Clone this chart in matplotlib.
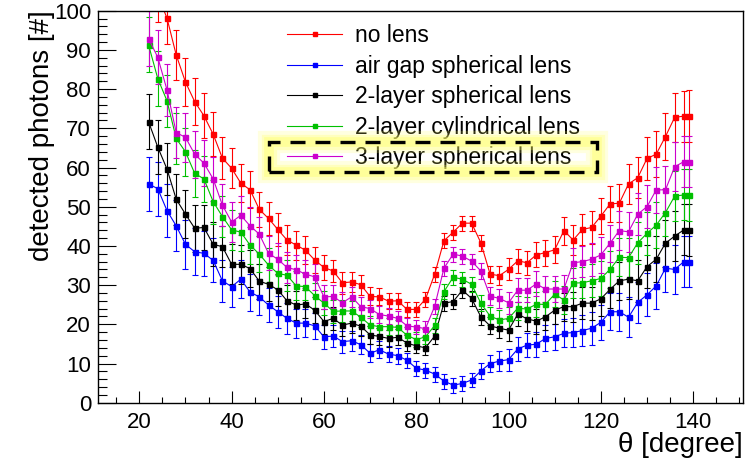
import matplotlib
matplotlib.use('Agg')
import matplotlib.pyplot as plt
from matplotlib.lines import Line2D
from matplotlib.patches import Rectangle
from matplotlib.ticker import MultipleLocator

plt.rcParams['font.family'] = ['Liberation Sans', 'DejaVu Sans']

theta = list(range(22, 139, 2)) + [139]

no_lens = [108, 104, 98.1, 88.7, 81.8, 76.8, 73.2, 68.5, 62.4, 59.8, 56.0, 54.3, 49.3, 47.0, 44.2,
           41.5, 40.2, 38.9, 36.4, 34.5, 33.6, 30.6, 30.8, 30.1, 27.1, 27.0, 25.9, 26.0, 23.8, 23.8,
           26.4, 32.8, 41.3, 43.5, 45.8, 45.8, 40.8, 32.8, 32.4, 34.0, 36.2, 35.7, 37.7, 38.3, 39.0,
           43.9, 41.5, 44.2, 44.7, 47.6, 50.7, 50.9, 55.8, 57.4, 62.3, 63.4, 67.9, 72.8, 73.1, 73.1]
air_gap = [55.8, 54.6, 49.0, 45.1, 40.4, 38.5, 38.1, 36.3, 31.1, 29.6, 31.5, 28.2, 27.0, 24.9, 23.2,
           21.5, 20.3, 20.3, 19.6, 16.8, 17.0, 15.6, 15.8, 14.8, 12.6, 13.5, 12.4, 12.0, 10.8, 8.8,
           8.3, 7.3, 5.5, 4.5, 4.9, 5.8, 8.1, 10.0, 10.6, 11.0, 13.7, 14.7, 14.9, 16.4, 16.8,
           17.7, 17.9, 18.4, 19.0, 20.5, 23.2, 23.2, 21.8, 25.6, 27.5, 29.8, 34.3, 34.0, 36.0, 36.0]
two_sph = [71.7, 65.2, 59.6, 51.9, 48.1, 44.5, 44.7, 40.4, 39.8, 35.3, 35.3, 34.2, 31.0, 30.2, 28.8,
           26.0, 24.9, 25.2, 23.6, 20.7, 21.5, 19.8, 20.3, 19.5, 17.3, 16.9, 16.4, 16.7, 15.2, 14.5,
           14.0, 17.0, 25.4, 25.8, 28.7, 26.6, 21.9, 19.6, 19.0, 18.5, 22.6, 21.4, 20.8, 21.9, 23.6,
           24.5, 24.5, 25.4, 25.4, 26.5, 28.9, 31.1, 31.5, 31.1, 34.7, 36.6, 40.7, 42.5, 44.1, 44.1]
two_cyl = [91.3, 82.7, 77.0, 67.4, 64.0, 58.5, 57.1, 51.3, 47.5, 44.1, 43.5, 40.2, 37.9, 35.1, 33.0,
           32.5, 29.8, 29.6, 27.3, 25.4, 23.3, 23.4, 23.4, 21.8, 19.8, 19.4, 19.4, 19.2, 17.2, 16.1,
           16.8, 19.7, 28.3, 32.0, 31.5, 30.2, 25.4, 22.1, 21.1, 21.5, 24.1, 23.9, 25.1, 25.1, 27.7,
           26.2, 30.5, 30.6, 31.1, 31.7, 34.0, 37.1, 37.0, 40.8, 43.2, 45.3, 48.5, 52.7, 53.0, 53.0]
three_sph = [92.9, 88.1, 79.8, 68.9, 67.7, 63.4, 61.1, 57.1, 50.4, 46.1, 47.8, 45.1, 43.0, 38.1, 36.6,
             34.5, 33.9, 32.8, 32.1, 27.0, 27.1, 25.5, 27.0, 24.5, 24.0, 22.5, 22.1, 21.5, 19.6, 19.3,
             18.9, 24.6, 34.3, 37.9, 37.4, 36.1, 33.6, 27.2, 26.6, 25.5, 28.7, 28.7, 30.3, 29.0, 29.0,
             29.0, 35.7, 36.0, 36.6, 37.7, 40.7, 43.9, 43.6, 48.1, 50.0, 54.3, 54.3, 60.2, 61.5, 61.5]

# error bar half-lengths (roughly the same for all series)
err = [7.0, 6.9, 6.7, 6.5, 6.2, 6.0, 5.8, 5.6, 5.3, 5.1, 4.9, 4.7, 4.5, 4.3, 4.1,
       3.9, 3.7, 3.5, 3.3, 3.1, 2.9, 2.8, 2.6, 2.5, 2.3, 2.2, 2.1, 2.0, 2.0, 1.9,
       1.9, 1.9, 1.9, 1.9, 1.9, 1.9, 2.0, 2.2, 2.5, 2.8, 3.0, 3.1, 3.2, 3.3, 3.4,
       3.6, 3.8, 4.0, 4.2, 4.5, 4.7, 4.9, 5.1, 5.3, 5.5, 5.8, 6.0, 6.3, 6.5, 6.6]

labels = ['no lens', 'air gap spherical lens', '2-layer spherical lens',
          '2-layer cylindrical lens', '3-layer spherical lens']
colors = ['#ff0000', '#0000ff', '#000000', '#00c000', '#cc00cc']
series = [no_lens, air_gap, two_sph, two_cyl, three_sph]

fig = plt.figure(figsize=(7.45, 4.59), dpi=100)
ax = fig.add_axes([98 / 745, 1 - 402.7 / 459, 645 / 745, 392 / 459])

handles = []
for vals, c, lab in zip(series, colors, labels):
    ax.errorbar(theta, vals, yerr=err, color=c, ecolor=c, elinewidth=0.8, capsize=2.4,
                capthick=0.8, marker='s', markersize=3.6, linewidth=0.8)
    handles.append(Line2D([], [], color=c, marker='s', markersize=3.4, linewidth=0.8))

ax.set_xlim(11.05, 150.8)
ax.set_ylim(0, 100)
ax.xaxis.set_major_locator(MultipleLocator(20))
ax.xaxis.set_minor_locator(MultipleLocator(5))
ax.yaxis.set_major_locator(MultipleLocator(10))
ax.yaxis.set_minor_locator(MultipleLocator(2))
ax.tick_params(axis='both', which='both', direction='in', labelsize=16, width=0.8)
ax.tick_params(axis='x', which='major', length=8.6, pad=7)
ax.tick_params(axis='x', which='minor', length=4.3)
ax.tick_params(axis='y', which='major', length=13, pad=5)
ax.tick_params(axis='y', which='minor', length=6.5)
for s in ax.spines.values():
    s.set_linewidth(1.0)

ax.set_ylabel('detected photons [#]', fontsize=20, loc='top')
ax.yaxis.set_label_coords(-0.066, 1.0)
ax.set_xlabel('θ [degree]', fontsize=20, loc='right')
ax.xaxis.set_label_coords(1.0, -0.075)

leg = ax.legend(handles, labels, loc='upper left', bbox_to_anchor=(287 / 745, 1 - 24 / 459),
                bbox_transform=fig.transFigure, frameon=False, fontsize=16.5,
                handlelength=2.4, handletextpad=0.55, labelspacing=0.33,
                borderpad=0, borderaxespad=0)

# highlight around the last legend entry
bx, by, bw, bh = 269 / 745, 1 - 171.7 / 459, 328 / 745, 30 / 459
for lw, a in [(16, 0.2), (11, 0.28), (7, 0.4)]:
    fig.add_artist(Rectangle((bx, by), bw, bh, transform=fig.transFigure, fill=False,
                             edgecolor='#ffff66', linewidth=lw, alpha=a))
fig.add_artist(Rectangle((bx, by), bw, bh, transform=fig.transFigure, fill=False,
                         edgecolor='black', linewidth=2.4, linestyle=(0, (4.5, 3))))

fig.savefig('out.png', dpi=100)
